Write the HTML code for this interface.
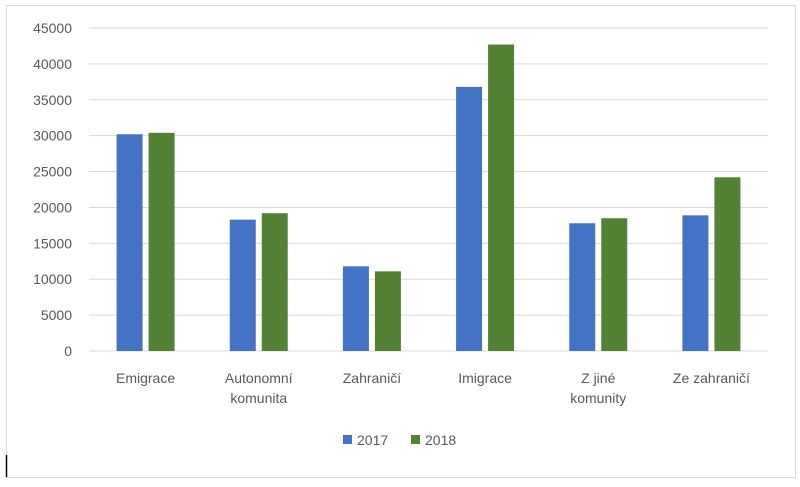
<!DOCTYPE html>
<html><head><meta charset="utf-8"><style>
body{margin:0;background:#fff;width:800px;height:482px;overflow:hidden}
svg text{font-family:"Liberation Sans",sans-serif;fill:#595959;font-size:14px}
</style></head><body>
<svg width="800" height="482">
<rect x="6.5" y="5.5" width="789" height="472" fill="#fff" stroke="#d9d9d9"/>
<line x1="6.5" y1="455" x2="6.5" y2="477" stroke="#000" stroke-width="1.5"/>
<g id="grid"></g><g id="bars"></g><g id="labels"></g>
<g>
<rect x="343" y="435" width="9" height="9" fill="#4472c4"/>
<text x="357" y="445">2017</text>
<rect x="411" y="435" width="9" height="9" fill="#548235"/>
<text x="425" y="445">2018</text>
</g>
</svg>
<script>
const categories=[["Emigrace"],["Autonomní","komunita"],["Zahraničí"],["Imigrace"],["Z jiné","komunity"],["Ze zahraničí"]];
const s2017=[30200,18300,11800,36800,17800,18900];
const s2018=[30400,19200,11100,42700,18500,24200];
const ticks=[0,5000,10000,15000,20000,25000,30000,35000,40000,45000];
const NS="http://www.w3.org/2000/svg";
const L=89,R=768,Y0=351,Y1=28,MAX=45000;
const y=v=>Y0-(v/MAX)*(Y0-Y1);
const bw=(R-L)/categories.length;
const cx=i=>L+bw*(i+0.5);
function mk(t,a,p){const e=document.createElementNS(NS,t);for(const k in a)e.setAttribute(k,a[k]);p.appendChild(e);return e;}
const g=document.getElementById('grid'),b=document.getElementById('bars'),lb=document.getElementById('labels');
ticks.forEach(t=>{
 const ln=mk('line',{x1:L,x2:R,y1:y(t),y2:y(t),stroke:'#d9d9d9','stroke-width':1},g);
 
 
 const tx=mk('text',{x:72,y:y(t)+5,'text-anchor':'end'},g);tx.textContent=t;
 
 
});
categories.forEach((c,i)=>{
 const w=26,gap=6;
 const r1=mk('rect',{x:cx(i)-gap/2-w,y:y(s2017[i]),width:w,height:Y0-y(s2017[i]),fill:'#4472c4'},b);
 
 
 const r2=mk('rect',{x:cx(i)+gap/2,y:y(s2018[i]),width:w,height:Y0-y(s2018[i]),fill:'#548235'},b);
 
 
 c.forEach((line,j)=>{
  const t=mk('text',{x:cx(i),y:383+j*20,'text-anchor':'middle'},lb);t.textContent=line;
  
  
 });
});
</script>
</body></html>
